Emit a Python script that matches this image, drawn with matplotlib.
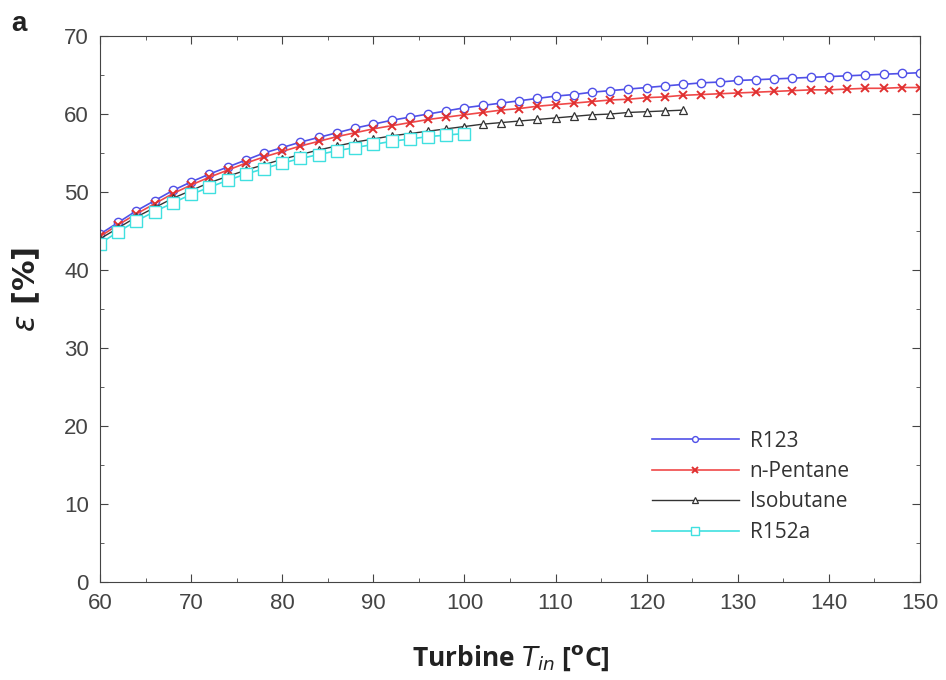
import numpy as np
import matplotlib
matplotlib.use("Agg")
import matplotlib.pyplot as plt
from matplotlib.ticker import MultipleLocator

# =========================
# DATA
# =========================

t_r123 = list(range(60, 151, 2))
eff_r123 = [44.6, 46.1, 47.6, 48.9, 50.2, 51.3, 52.3, 53.2, 54.1, 55.0,
            55.7, 56.4, 57.0, 57.6, 58.2, 58.7, 59.2, 59.6, 60.0, 60.4,
            60.8, 61.1, 61.4, 61.7, 62.0, 62.3, 62.5, 62.8, 63.0, 63.2,
            63.4, 63.6, 63.8, 64.0, 64.1, 64.3, 64.4, 64.5, 64.6, 64.7,
            64.8, 64.9, 65.0, 65.1, 65.2, 65.3]

t_pentane = list(range(60, 151, 2))
eff_pentane = [44.3, 45.8, 47.2, 48.5, 49.8, 50.9, 51.9, 52.8, 53.7, 54.5,
               55.2, 55.9, 56.5, 57.1, 57.6, 58.1, 58.5, 58.9, 59.3, 59.6,
               59.9, 60.2, 60.5, 60.7, 61.0, 61.2, 61.4, 61.6, 61.8, 61.9,
               62.1, 62.2, 62.4, 62.5, 62.6, 62.7, 62.8, 62.9, 63.0, 63.1,
               63.1, 63.2, 63.3, 63.3, 63.4, 63.4]

t_isobutane = list(range(60, 125, 2))
eff_isobutane = [44.0, 45.4, 46.8, 48.0, 49.2, 50.2, 51.2, 52.0, 52.8, 53.5,
                 54.2, 54.8, 55.4, 55.9, 56.4, 56.8, 57.2, 57.5, 57.8, 58.1,
                 58.4, 58.7, 58.9, 59.1, 59.3, 59.5, 59.7, 59.9, 60.0, 60.2,
                 60.3, 60.4, 60.5]

t_r152a = list(range(60, 101, 2))
eff_r152a = [43.4, 44.9, 46.3, 47.5, 48.6, 49.7, 50.6, 51.5, 52.3, 53.0,
             53.7, 54.3, 54.8, 55.3, 55.7, 56.1, 56.5, 56.8, 57.1, 57.3,
             57.5]

x_ticks = [60, 70, 80, 90, 100, 110, 120, 130, 140, 150]
y_ticks = [0, 10, 20, 30, 40, 50, 60, 70]

# =========================
# PLOT
# =========================

fig = plt.figure(figsize=(9.46, 6.8), dpi=100)
ax = fig.add_axes([0.1057, 0.1441, 0.8668, 0.8029])

ax.plot(t_r123, eff_r123, color="#5050e8", lw=1.2, marker="o", ms=6,
        mfc="white", mec="#5050e8", mew=1.0, label="R123")
ax.plot(t_pentane, eff_pentane, color="#f04848", lw=1.2, marker="x", ms=6,
        mec="#e03030", mew=1.4, label="n-Pentane")
ax.plot(t_isobutane, eff_isobutane, color="#333333", lw=1.0, marker="^", ms=6,
        mfc="white", mec="#333333", mew=0.9, label="Isobutane")
ax.plot(t_r152a, eff_r152a, color="#40e0e0", lw=1.2, marker="s", ms=8,
        mfc="white", mec="#40e0e0", mew=1.0, label="R152a")

ax.set_xlim(60, 150)
ax.set_ylim(0, 70)
ax.set_xticks(x_ticks)
ax.set_yticks(y_ticks)
ax.xaxis.set_minor_locator(MultipleLocator(5))
ax.yaxis.set_minor_locator(MultipleLocator(5))
ax.tick_params(which="both", direction="in", top=True, right=True,
               colors="#444444", labelcolor="#444444")
ax.tick_params(which="major", length=6, labelsize=16, pad=8)
ax.tick_params(which="minor", length=3)
for lbl in ax.get_xticklabels() + ax.get_yticklabels():
    lbl.set_family(["Liberation Sans", "DejaVu Sans"])
for sp in ax.spines.values():
    sp.set_color("#444444")

fig.text(0.54, 0.032, r"Turbine $\mathbf{\mathit{T_{in}}}$ [$^{\mathbf{o}}$C]",
         ha="center", va="center", fontsize=19, fontweight="bold",
         family=["Open Sans", "DejaVu Sans"], color="#222222")
fig.text(0.028, 0.574, r"$\epsilon$ [%]", ha="center", va="center",
         rotation=90, fontsize=22, fontweight="bold",
         family=["DejaVu Sans"], color="#222222")
fig.text(0.012, 0.965, "a", ha="left", va="center", fontsize=20,
         fontweight="bold", family=["Liberation Sans", "DejaVu Sans"],
         color="#222222")

leg = ax.legend(loc="lower left", bbox_to_anchor=(0.655, 0.045),
                frameon=False, handlelength=4.2, handletextpad=0.5,
                labelspacing=0.45, markerscale=0.7, borderpad=0.2,
                prop={"family": ["Open Sans", "DejaVu Sans"], "size": 15})
for txt in leg.get_texts():
    txt.set_color("#333333")

fig.savefig("out.png", dpi=100)
